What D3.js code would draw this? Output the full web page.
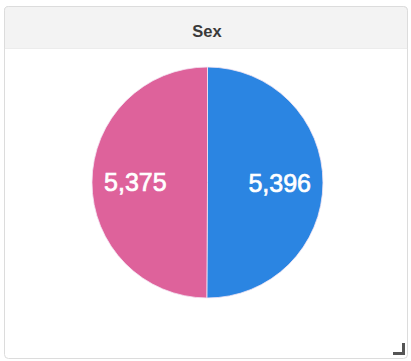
<!DOCTYPE html>
<html><head><meta charset="utf-8">
<script src="https://cdn.jsdelivr.net/npm/d3@7/dist/d3.min.js"></script>
<style>html,body{margin:0;padding:0;background:#fff;}svg{display:block;}</style>
</head><body>
<svg id="chart" width="411" height="361"></svg>
<script>
const title = "Sex";
const categories = ["Male", "Female"];
const values = [5396, 5375];
const colors = ["#2b85e2", "#de629b"];

const svg = d3.select("#chart");
// panel
svg.append("rect").attr("x", 4.5).attr("y", 6.5).attr("width", 403).attr("height", 352)
  .attr("rx", 4).attr("fill", "#fff").attr("stroke", "#dcdcdc");
svg.append("path").attr("d", "M4.5,48.5 V10.5 A4,4 0 0 1 8.5,6.5 H403.5 A4,4 0 0 1 407.5,10.5 V48.5 Z")
  .attr("fill", "#f3f3f3").attr("stroke", "#dcdcdc");
svg.append("line").attr("x1", 5).attr("x2", 407).attr("y1", 48.5).attr("y2", 48.5).attr("stroke", "#ececec");
svg.append("text").attr("x", 207).attr("y", 36.5).attr("text-anchor", "middle")
  .attr("font-family", "Liberation Sans, Arial, sans-serif").attr("font-weight", "bold")
  .attr("font-size", 16.5).attr("fill", "#3a3a3a").text(title);

// pie
const cx = 207.5, cy = 182.5, r = 115.5;
const pie = d3.pie().sort(null).value(d => d.v);
const data = pie(categories.map((c, i) => ({c, v: values[i], col: colors[i]})));
const arc = d3.arc().innerRadius(0).outerRadius(r);
const labelArc = d3.arc().innerRadius(r * 0.625).outerRadius(r * 0.625);
const g = svg.append("g").attr("transform", `translate(${cx},${cy})`);
g.selectAll("path.slice").data(data).join("path").attr("class", "slice")
  .attr("d", arc).attr("fill", d => d.data.col).attr("stroke", "#f4e6f4").attr("stroke-width", 0.8);
const fmt = d3.format(",");
g.selectAll("text.lbl").data(data).join("text").attr("class", "lbl")
  .attr("x", d => labelArc.centroid(d)[0]).attr("y", d => labelArc.centroid(d)[1] + 9)
  .attr("text-anchor", "middle").attr("fill", "#fff")
  .attr("stroke", "#fff").attr("stroke-width", 0.7)
  .attr("font-family", "Liberation Sans, Arial, sans-serif").attr("font-size", 25)
  .text(d => fmt(d.data.v));

// resize handle
svg.append("path").attr("d", "M403.5,343 V353.5 H393").attr("fill", "none")
  .attr("stroke", "#555").attr("stroke-width", 3);
</script>
</body></html>
